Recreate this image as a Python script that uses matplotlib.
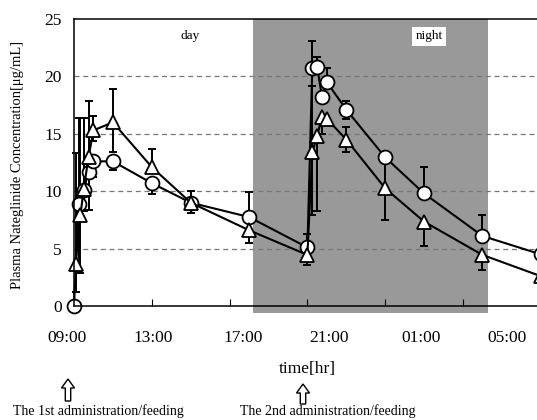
import numpy as np
import matplotlib
matplotlib.use('Agg')
import matplotlib.pyplot as plt
import matplotlib.transforms as mtransforms
from matplotlib.patches import Polygon

plt.rcParams['font.family'] = ['Liberation Serif', 'DejaVu Serif']

# time after 1st dose (h)
t_circ = [0, 0.25, 0.5, 0.75, 1, 2, 4, 6, 9, 12, 12.25, 12.5, 12.75, 13, 14, 16, 18, 21, 24]
c_circ = [0, 8.9, 10.1, 11.7, 12.6, 12.6, 10.7, 9.0, 7.75, 5.1, 20.7, 20.85, 18.2, 19.5, 17.1, 12.95, 9.8, 6.1, 4.5]
circ_lo = [0, 6.05, 0, 0, 1.4, 0.75, 0.95, 0.9, 0, 0, 0, 0, 0, 0, 0.8, 0, 0, 0, 0]
circ_up = [0, 7.5, 6.3, 0, 0, 0, 0, 0, 2.15, 1.2, 2.4, 0.85, 0, 1.2, 0.8, 0, 2.3, 1.8, 0]

t_tri = [0.08, 0.33, 0.5, 0.75, 1, 2, 4, 6, 9, 12, 12.25, 12.5, 12.75, 13, 14, 16, 18, 21, 24]
c_tri = [3.7, 7.9, 10.2, 13.0, 15.3, 16.0, 12.1, 9.0, 6.6, 4.45, 13.4, 14.8, 16.5, 16.3, 14.5, 10.25, 7.35, 4.45, 2.6]
tri_lo = [2.45, 5.05, 1.9, 4.6, 0.95, 2.55, 0, 0, 1.1, 0.85, 5.5, 6.5, 1.5, 0, 1.05, 2.75, 2.1, 1.35, 0]
tri_up = [9.6, 8.5, 6.2, 4.85, 1.25, 2.9, 1.6, 1.0, 0, 0, 5.8, 0, 0, 0, 1.05, 2.5, 0, 0, 0]

clock_labels = ['09:00', '13:00', '17:00', '21:00', '01:00', '05:00']
clock_pos = [-0.36, 4.06, 8.69, 13.11, 17.84, 22.26]   # label centres (h), offset from ticks as in original
night_span = (9.2, 21.3)

W, H = 537, 420
fig = plt.figure(figsize=(W / 100, H / 100), dpi=100)
px_per_h = 19.45
ax = fig.add_axes([74 / W, (H - 306) / H, 26 * px_per_h / W, 287 / H])
ax.set_xlim(0, 26)
ax.set_ylim(0, 25)

# night shading (slightly below the axis, as in the source)
ax.axvspan(night_span[0], night_span[1], ymin=-0.025, ymax=1, color='#999999',
           lw=0, zorder=0, clip_on=False)
for yv in [5, 10, 15, 20]:
    ax.axhline(yv, color='#777777', lw=0.9, ls=(0, (4, 3)), zorder=1)

ax.errorbar(t_circ, c_circ, yerr=[circ_lo, circ_up], fmt='none', ecolor='black',
            elinewidth=1.4, capsize=3, capthick=1.4, zorder=2, clip_on=False)
ax.errorbar(t_tri, c_tri, yerr=[tri_lo, tri_up], fmt='none', ecolor='black',
            elinewidth=1.4, capsize=3, capthick=1.4, zorder=2, clip_on=False)
ax.plot(t_circ, c_circ, '-o', color='black', lw=1.5, ms=10, mfc='white',
        mec='black', mew=1.3, zorder=3, clip_on=False)
ax.plot(t_tri, c_tri, '-^', color='black', lw=1.5, ms=10, mfc='white',
        mec='black', mew=1.3, zorder=4, clip_on=False)

ax.set_xticks(np.arange(0, 25, 4))
ax.set_xticklabels([])
ax.tick_params(axis='x', direction='in', length=5, width=0.8)
ax.set_yticks(np.arange(0, 26, 5))
ax.tick_params(axis='y', length=0, pad=9, labelsize=12.5)
for s in ax.spines.values():
    s.set_linewidth(1.1)
    s.set_zorder(5)

trans = mtransforms.blended_transform_factory(ax.transData, ax.transAxes)
for lab, xp in zip(clock_labels, clock_pos):
    ax.text(xp, -0.111, lab, transform=trans, ha='center', va='center',
            fontsize=12.5, clip_on=False)

ax.text(5.96, 23.5, 'day', ha='center', va='center', fontsize=9.5)
ax.text(18.25, 23.5, 'night', ha='center', va='center', fontsize=9.5,
        bbox=dict(facecolor='white', edgecolor='none', pad=2.5))

fig.text(18 / W, 1 - 165 / H, 'Plasma Nateglinide Concentration[\u03bcg/mL]',
         rotation=90, ha='center', va='center', fontsize=10.5)
fig.text(307 / W, 1 - 369 / H, 'time[hr]', ha='center', va='center', fontsize=12.5)


def up_arrow(cx, tip, base):
    # hollow block arrow, pixel coords from top-left
    head = tip + 9
    pts = [(cx, tip), (cx + 6.5, head), (cx + 2.7, head), (cx + 2.7, base),
           (cx - 2.7, base), (cx - 2.7, head), (cx - 6.5, head)]
    pts = [(x / W, 1 - y / H) for x, y in pts]
    fig.patches.append(Polygon(pts, closed=True, facecolor='white', edgecolor='black',
                               lw=1.0, transform=fig.transFigure))


up_arrow(68, 379, 401)
up_arrow(303, 384, 404)
fig.text(98 / W, 1 - 411 / H, 'The 1st administration/feeding', ha='center',
         va='center', fontsize=10)
fig.text(328 / W, 1 - 411 / H, 'The 2nd administration/feeding', ha='center',
         va='center', fontsize=10)

fig.savefig('out.png', dpi=100)
